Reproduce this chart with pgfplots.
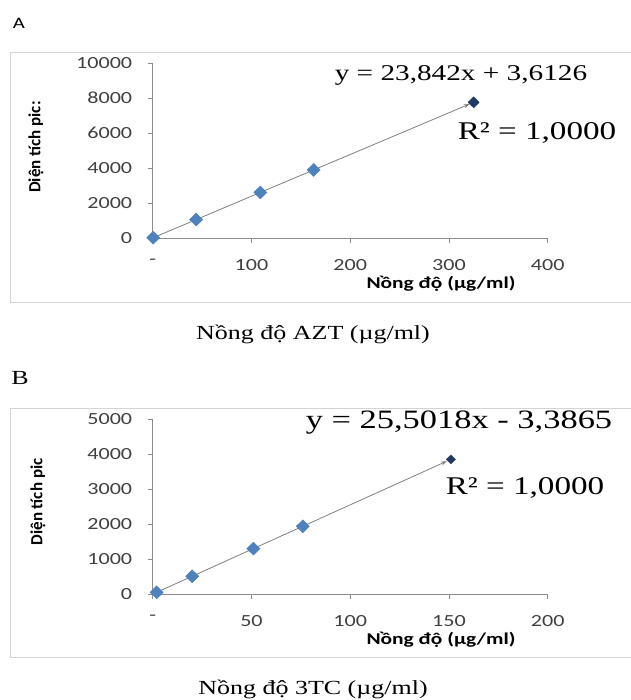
\documentclass[border=0pt]{standalone}
\usepackage{fontspec}
\setmainfont{Liberation Serif}[FakeStretch=1.3]
\newfontfamily\calib{Carlito}[FakeStretch=1.3]
\newfontfamily\calibn{Carlito}
\usepackage{pgfplots}
\pgfplotsset{compat=1.18}
\usetikzlibrary{arrows.meta}
\definecolor{mk}{HTML}{4F81BD}
\definecolor{mkdk}{HTML}{1F3864}
\definecolor{ax}{HTML}{8C8C8C}
\definecolor{fr}{HTML}{D4D4D4}
\definecolor{tl}{HTML}{7F7F7F}
\pgfplotsset{
  cal/.style={scale only axis, width=395pt, height=175pt, anchor=south west,
    axis x line*=bottom, axis y line*=left, enlargelimits=false, clip=false,
    axis line style={ax, line width=0.8pt}, tick style={ax, line width=0.8pt},
    major tick length=5pt, tick align=outside, xmin=0, ymin=0,
    scaled y ticks=false, scaled x ticks=false,
    tick label style={font=\calib\fontsize{17}{17}\selectfont, text=black!75},
    xticklabel style={yshift=-13pt}, yticklabel style={xshift=-12pt}},
  pts/.style={only marks, mark=diamond*, mark size=6.5pt,
    mark options={fill=mk, draw=mk, xscale=1.35}},
  trend/.style={no marks, tl, line width=0.8pt, -{Stealth[length=6pt,width=4pt]}},
}
\newcommand\lbl{\calib\bfseries\fontsize{16.5}{16.5}\selectfont}
\newcommand\ylbl{\calibn\bfseries\fontsize{17}{17}\selectfont}
\begin{document}
\begin{tikzpicture}
\useasboundingbox (0pt,0pt) rectangle (630pt,-700pt);
% frames
\draw[fr, line width=1pt] (10pt,-53pt) rectangle (640pt,-302pt);
\draw[fr, line width=1pt] (10pt,-408pt) rectangle (640pt,-657pt);

% panel A
\begin{axis}[cal, at={(152.7pt,-238pt)}, xmax=400, ymax=10000,
    xtick={0,100,200,300,400}, xticklabels={-,100,200,300,400},
    ytick={0,2000,4000,6000,8000,10000}, yticklabels={0,2000,4000,6000,8000,10000}]
  \addplot[trend] coordinates {(1,27) (321,7657)};
  \addplot[pts] coordinates {(0.5,15) (44,1053) (109,2602) (163,3890)};
  \addplot[only marks, mark=diamond*, mark size=5.5pt, mark options={fill=mkdk, draw=mkdk, xscale=1.35}]
    coordinates {(325,7752)};
\end{axis}

% panel B
\begin{axis}[cal, at={(152.7pt,-594pt)}, xmax=200, ymax=5000,
    xtick={0,50,100,150,200}, xticklabels={-,50,100,150,200},
    ytick={0,1000,2000,3000,4000,5000}, yticklabels={0,1000,2000,3000,4000,5000}]
  \addplot[trend] coordinates {(2,48) (149,3797)};
  \addplot[pts] coordinates {(2,48) (20,507) (51,1297) (76,1935)};
  \addplot[only marks, mark=diamond*, mark size=4.5pt, mark options={fill=mkdk, draw=mkdk, xscale=1.35}]
    coordinates {(151,3847)};
\end{axis}

% texts A
\node[font=\calib\fontsize{16}{16}\selectfont] at (19pt,-23pt) {A};
\node[font=\ylbl, rotate=90] at (36pt,-147pt) {Diện tích pic:};
\node[font=\lbl] at (441pt,-284pt) {Nồng độ (µg/ml)};
\node[font=\fontsize{22.5}{22.5}\selectfont] at (461pt,-75pt) {y = 23,842x + 3,6126};
\node[font=\fontsize{25.5}{25.5}\selectfont] at (537pt,-133pt) {R² = 1,0000};
\node[font=\fontsize{20}{20}\selectfont] at (313pt,-334pt) {Nồng độ AZT (µg/ml)};

% texts B
\node[font=\fontsize{20}{20}\selectfont] at (20pt,-378pt) {B};
\node[font=\ylbl, rotate=90] at (38pt,-502pt) {Diện tích pic};
\node[font=\lbl] at (441pt,-640pt) {Nồng độ (µg/ml)};
\node[font=\fontsize{26.5}{26.5}\selectfont] at (459pt,-423pt) {y = 25,5018x - 3,3865};
\node[font=\fontsize{25.5}{25.5}\selectfont] at (525pt,-488pt) {R² = 1,0000};
\node[font=\fontsize{20}{20}\selectfont] at (313pt,-689pt) {Nồng độ 3TC (µg/ml)};
\end{tikzpicture}
\end{document}
